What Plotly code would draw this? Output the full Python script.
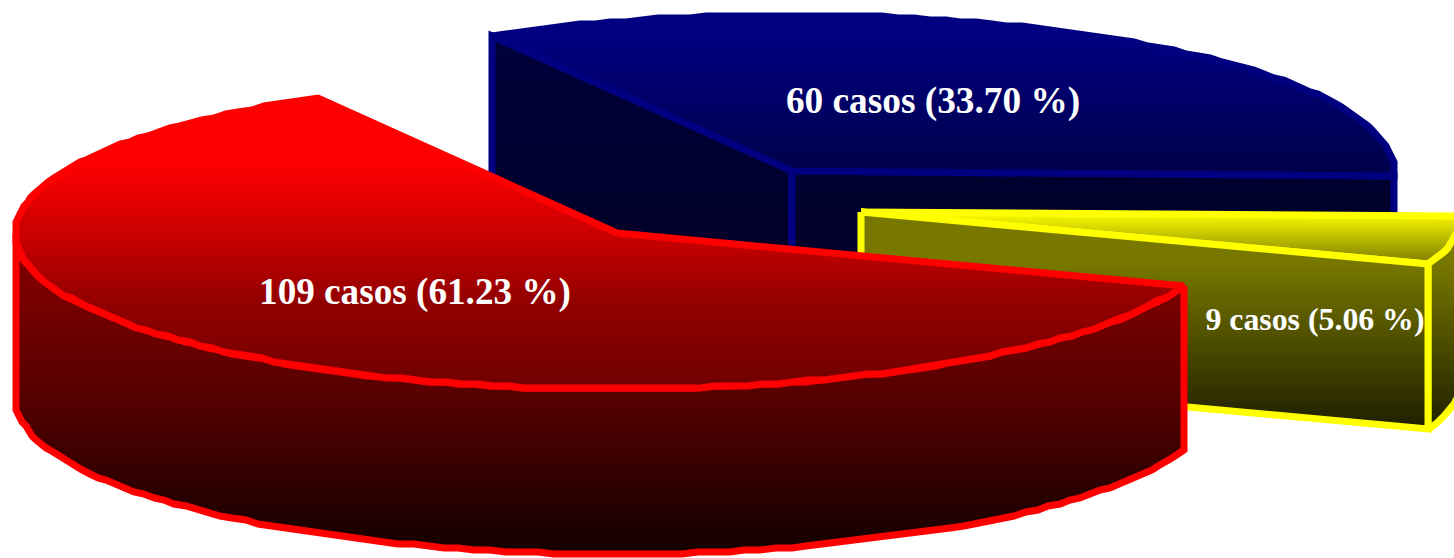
import numpy as np
import plotly.graph_objects as go

# Case counts per slice, in drawing order
labels = ["109 casos (61.23 %)", "60 casos (33.70 %)", "9 casos (5.06 %)"]
cases = [109, 60, 9]
line_colors = ["#ff0000", "#000080", "#ffff00"]
apexes = [(617, 233), (792, 171), (861, 212)]
label_xy = [(415, 295), (933, 104), (1315, 322)]
label_sizes = [37.2, 37.3, 31.8]

# Vertical shading: (y position, colour) pairs per surface
red_top = [(160, "#ff0000"), (233, "#cc0000"), (300, "#940000"), (388, "#700000")]
red_side = [(285, "#7c0000"), (400, "#550000"), (500, "#280000"), (552, "#140000")]
blue_top = [(40, "#000080"), (175, "#000048")]
blue_side = [(35, "#00003c"), (340, "#000020")]
yellow_top = [(212, "#ffff00"), (265, "#787800")]
yellow_side = [(262, "#787800"), (430, "#1e1e00")]

RX, RY, DEPTH = 602, 156, 165
START_DEG = 240.2
SWEEP = np.array(cases) / sum(cases) * 360.0
EDGE = 7
SNAP = 2.0  # rim vertices sit on a coarse grid, which gives the hand-cut outline


def rim(apex, t0, t1, drop=0.0):
    """Projected rim of a slice between two angles, in degrees."""
    t = np.radians(np.linspace(t0, t1, max(int(abs(t1 - t0) / 1.5), 2)))
    xs = apex[0] + RX * np.cos(t)
    ys = apex[1] + RY * np.sin(t) + drop
    return np.round(xs / SNAP) * SNAP, np.round(ys / SNAP) * SNAP


def poly(xs, ys, shade, line):
    """Closed filled polygon with a vertical gradient through the shade stops."""
    xs = np.append(xs, xs[0])
    ys = np.append(ys, ys[0])
    start, stop = shade[0][0], shade[-1][0]
    scale = [[(y - start) / (stop - start), c] for y, c in shade]
    return go.Scatter(
        x=xs, y=ys, mode="lines", fill="toself",
        fillgradient=dict(type="vertical", start=start, stop=stop, colorscale=scale),
        line=dict(color=line, width=EDGE, shape="linear"),
        hoverinfo="skip", showlegend=False,
    )


def cut_face(apex, t, shade, line):
    """Vertical face running from the slice apex out to the rim at angle t."""
    rx, ry = rim(apex, t, t + 0.01)
    xs = np.array([apex[0], rx[0], rx[0], apex[0]])
    ys = np.array([apex[1], ry[0], ry[0] + DEPTH, apex[1] + DEPTH])
    return poly(xs, ys, shade, line)


def side_wall(apex, t0, t1, shade, line):
    """Curved outer wall of a slice between two angles."""
    x0, y0 = rim(apex, t0, t1)
    x1, y1 = rim(apex, t0, t1, DEPTH)
    return poly(np.r_[x0, x1[::-1]], np.r_[y0, y1[::-1]], shade, line)


def top_face(apex, t0, t1, shade, line):
    x0, y0 = rim(apex, t0, t1)
    return poly(np.r_[apex[0], x0], np.r_[apex[1], y0], shade, line)


angles = []
t = START_DEG
for s in SWEEP[[1, 2, 0]]:
    angles.append((t, t + s))
    t += s
blue_span, yellow_span, red_span = angles
red_span = (red_span[0] - 360, red_span[1] - 360)

traces = []

# Blue slice, furthest back
traces.append(cut_face(apexes[1], blue_span[0], blue_side, line_colors[1]))
traces.append(cut_face(apexes[1], blue_span[1], blue_side, line_colors[1]))
traces.append(top_face(apexes[1], *blue_span, blue_top, line_colors[1]))

# Yellow slice
traces.append(top_face(apexes[2], *yellow_span, yellow_top, line_colors[2]))
traces.append(side_wall(apexes[2], *yellow_span, yellow_side, line_colors[2]))
traces.append(cut_face(apexes[2], yellow_span[1], yellow_side, line_colors[2]))

# Red slice, nearest the viewer
traces.append(side_wall(apexes[0], red_span[0], 180, red_side, line_colors[0]))
traces.append(top_face(apexes[0], *red_span, red_top, line_colors[0]))

# Value labels
traces.append(go.Scatter(
    x=[p[0] for p in label_xy], y=[p[1] for p in label_xy],
    mode="text", text=[f"<b>{s}</b>" for s in labels],
    textposition="middle center",
    textfont=dict(family="Liberation Serif", size=label_sizes, color="#ffffff"),
    hoverinfo="skip", showlegend=False,
))

fig = go.Figure(traces)
fig.update_layout(
    width=1454, height=558,
    margin=dict(l=0, r=0, t=0, b=0),
    paper_bgcolor="#ffffff", plot_bgcolor="#ffffff",
    showlegend=False,
    xaxis=dict(range=[0, 1454], visible=False, fixedrange=True),
    yaxis=dict(range=[558, 0], visible=False, fixedrange=True),
)
fig.write_html("out.html", config={"displayModeBar": False})
